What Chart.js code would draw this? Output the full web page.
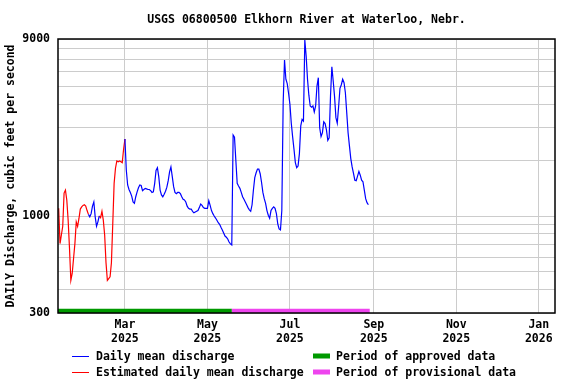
<!DOCTYPE html>
<html>
<head>
<meta charset="utf-8">
<script src="https://cdn.jsdelivr.net/npm/chart.js@4.4.1/dist/chart.umd.min.js"></script>
<style>
  body { margin: 0; background: #fff; }
  #wrap { width: 576px; height: 384px; }
</style>
</head>
<body>
<div id="wrap"><canvas id="flowChart" width="576" height="384"></canvas></div>
<script>
// Daily mean discharge (cfs), one value per day starting at firstDay
const firstDay = "2025-01-11"
const discharge = [
  1100, 710, 790, 880, 1330, 1380, 1220, 950, 670, 450,
  490, 590, 710, 930, 880, 970, 1090, 1120, 1140, 1150,
  1130, 1070, 1020, 990, 1030, 1130, 1190, 990, 880, 930,
  1000, 980, 1060, 950, 790, 560, 450, 460, 470, 560,
  910, 1500, 1810, 1980, 1960, 1980, 1960, 1940, 2290, 2600,
  1770, 1470, 1390, 1340, 1280, 1190, 1170, 1270, 1350, 1420,
  1470, 1460, 1370, 1390, 1410, 1400, 1390, 1390, 1370, 1340,
  1350, 1500, 1760, 1820, 1630, 1380, 1300, 1270, 1310, 1360,
  1430, 1550, 1730, 1840, 1630, 1440, 1340, 1320, 1340, 1340,
  1320, 1270, 1230, 1220, 1190, 1130, 1100, 1090, 1090, 1060,
  1040, 1050, 1060, 1070, 1110, 1160, 1140, 1110, 1100, 1100,
  1100, 1210, 1140, 1070, 1030, 1000, 975, 948, 920, 902,
  869, 841, 810, 780, 768, 752, 724, 707, 698, 2730,
  2660, 2000, 1500, 1450, 1410, 1340, 1270, 1230, 1190, 1150,
  1110, 1080, 1060, 1150, 1380, 1610, 1710, 1790, 1790, 1690,
  1520, 1340, 1240, 1170, 1070, 1010, 972, 1070, 1100, 1120,
  1100, 1030, 906, 851, 841, 1070, 4080, 6930, 5460, 5170,
  4590, 4000, 3160, 2670, 2290, 1940, 1820, 1860, 2170, 3060,
  3320, 3250, 8890, 7290, 5460, 4480, 3920, 3860, 3920, 3640,
  3920, 5020, 5570, 2990, 2680, 2810, 3220, 3150, 2910, 2560,
  2640, 4440, 6380, 5340, 4400, 3390, 3160, 3880, 4880, 5100,
  5460, 5230, 4620, 3610, 2810, 2390, 2040, 1840, 1700, 1560,
  1550, 1640, 1740, 1660, 1560, 1530, 1380, 1240, 1180, 1150,
]
// Days flagged as estimated (drawn red)
const estimatedSpans = [["2025-01-11", "2025-02-02"], ["2025-02-10", "2025-03-01"]]
// Data-status periods shown as bars along the bottom
const approvedPeriod = ["2025-01-10", "2025-05-19"]
const provisionalPeriod = ["2025-05-19", "2025-08-29"]
const periodLevel = 308

const monthTicks = ["2025-03-01", "2025-05-01", "2025-07-01", "2025-09-01", "2025-11-01", "2026-01-01"]
const monthNames = ["Jan", "Feb", "Mar", "Apr", "May", "Jun", "Jul", "Aug", "Sep", "Oct", "Nov", "Dec"]
const yGrid = [300, 400, 500, 600, 700, 800, 900, 1000, 2000, 3000, 4000, 5000, 6000, 7000, 8000, 9000]
const yLabels = [300, 1000, 9000]

const FONT = "'DejaVu Sans Mono', 'Liberation Mono', monospace"

// day number counted from 2025-01-01
function dayOf(s) {
  const [y, m, d] = s.split("-").map(Number)
  return (Date.UTC(y, m - 1, d) - Date.UTC(2025, 0, 1)) / 86400000
}

const start = dayOf(firstDay)
const isEstimated = (day) => estimatedSpans.some(([a, b]) => day >= dayOf(a) && day <= dayOf(b))
const points = discharge.map((v, i) => ({ x: start + i, y: v, est: isEstimated(start + i) }))

const estPoints = points.map((p) => ({ x: p.x, y: p.est ? p.y : null }))
const dailyPoints = points.map((p, i) => {
  const prev = points[i - 1], next = points[i + 1]
  const keep = !p.est || (prev && !prev.est) || (next && !next.est)
  return { x: p.x, y: keep ? p.y : null }
})

const tickDays = monthTicks.map(dayOf)

// frame round the plot area
const framePlugin = {
  id: "frame",
  afterDatasetsDraw(chart) {
    const { ctx, chartArea: a } = chart
    ctx.save()
    ctx.strokeStyle = "#000"
    ctx.lineWidth = 1.5
    ctx.strokeRect(a.left, a.top, a.right - a.left, a.bottom - a.top)
    ctx.restore()
  },
}

// two-column legend under the axis
const legendPlugin = {
  id: "usgsLegend",
  afterDraw(chart) {
    const ctx = chart.ctx
    const ds = chart.data.datasets
    const items = [
      { d: ds[0], x: 72, y: 356, bar: false },
      { d: ds[1], x: 72, y: 372, bar: false },
      { d: ds[2], x: 313, y: 356, bar: true },
      { d: ds[3], x: 313, y: 372, bar: true },
    ]
    ctx.save()
    ctx.font = "bold 11.5px " + FONT
    ctx.textBaseline = "middle"
    ctx.fillStyle = "#000"
    items.forEach((it) => {
      if (it.bar) {
        ctx.fillStyle = it.d.borderColor
        ctx.fillRect(it.x, it.y - 2.5, 17, 5)
      } else {
        ctx.strokeStyle = it.d.borderColor
        ctx.lineWidth = 1
        ctx.beginPath()
        ctx.moveTo(it.x, it.y + 0.5)
        ctx.lineTo(it.x + 17, it.y + 0.5)
        ctx.stroke()
      }
      ctx.fillStyle = "#000"
      ctx.fillText(it.d.label, it.x + (it.bar ? 23 : 24), it.y + 1)
    })
    ctx.restore()
  },
}

const ctx = document.getElementById("flowChart")
new Chart(ctx, {
  type: "line",
  data: {
    datasets: [
      {
        label: "Daily mean discharge",
        data: dailyPoints,
        borderColor: "#0000ff",
        borderWidth: 1.2,
        pointRadius: 0,
        spanGaps: false,
      },
      {
        label: "Estimated daily mean discharge",
        data: estPoints,
        borderColor: "#ff0000",
        borderWidth: 1.2,
        pointRadius: 0,
        spanGaps: false,
      },
      {
        label: "Period of approved data",
        data: approvedPeriod.map((d) => ({ x: dayOf(d), y: periodLevel })),
        borderColor: "#009900",
        borderWidth: 4.5,
        pointRadius: 0,
      },
      {
        label: "Period of provisional data",
        data: provisionalPeriod.map((d) => ({ x: dayOf(d), y: periodLevel })),
        borderColor: "#ee44ee",
        borderWidth: 4.5,
        pointRadius: 0,
      },
    ],
  },
  options: {
    responsive: false,
    animation: false,
    devicePixelRatio: 1,
    layout: { padding: { left: 0, right: 21, top: 0, bottom: 0 } },
    font: { family: FONT },
    plugins: {
      legend: { display: false },
      tooltip: { enabled: false },
      title: {
        display: true,
        text: "USGS 06800500 Elkhorn River at Waterloo, Nebr.",
        fullSize: false,
        color: "#000",
        font: { family: FONT, size: 11.5, weight: "bold" },
        padding: { top: 13, bottom: 12.2 },
      },
    },
    scales: {
      x: {
        type: "linear",
        min: 9.5,
        max: 377,
        afterBuildTicks: (scale) => {
          scale.ticks = tickDays.map((v) => ({ value: v }))
        },
        afterFit: (scale) => {
          scale.height = 71
        },
        grid: { color: "#cccccc", drawTicks: false },
        border: { display: false },
        ticks: {
          autoSkip: false,
          maxRotation: 0,
          padding: 5,
          color: "#000",
          font: { family: FONT, size: 11.5, weight: "bold" },
          callback: (v) => {
            const i = tickDays.indexOf(v)
            if (i < 0) return ""
            const [y, m] = monthTicks[i].split("-").map(Number)
            return [monthNames[m - 1], String(y)]
          },
        },
      },
      y: {
        type: "logarithmic",
        min: 300,
        max: 9000,
        afterBuildTicks: (scale) => {
          scale.ticks = yGrid.map((v) => ({ value: v }))
        },
        afterFit: (scale) => {
          scale.width = 58
        },
        grid: { color: "#cccccc", drawTicks: false },
        border: { display: false },
        ticks: {
          autoSkip: false,
          padding: 8,
          color: "#000",
          font: { family: FONT, size: 11.5, weight: "bold" },
          callback: (v) => (yLabels.includes(v) ? String(v) : ""),
        },
        title: {
          display: true,
          text: "DAILY Discharge, cubic feet per second",
          color: "#000",
          font: { family: FONT, size: 11.5, weight: "bold" },
          padding: { top: 4, bottom: 0 },
        },
      },
    },
  },
  plugins: [framePlugin, legendPlugin],
})
</script>
</body>
</html>
